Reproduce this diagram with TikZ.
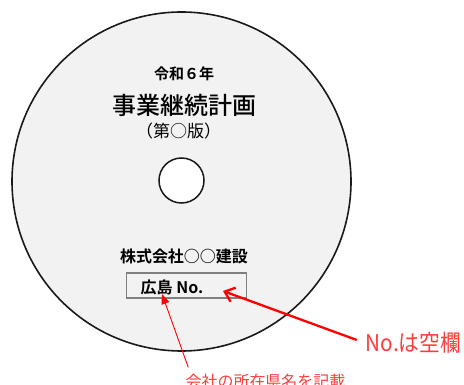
\documentclass[tikz,border=0pt]{standalone}
\usepackage{fontspec}
\usetikzlibrary{arrows.meta}
\newfontfamily\jp{Noto Sans CJK JP}[BoldFont={Noto Sans CJK JP Bold}]
\newfontfamily\jpmed{Noto Sans CJK JP Medium}
\definecolor{discfill}{HTML}{F2F2F2}
\definecolor{discline}{HTML}{1A1A1A}
\definecolor{boxline}{HTML}{808080}
\definecolor{notered}{HTML}{FF3B3B}
\tikzset{
  disc/.style={circle, draw=discline, line width=1.6pt, fill=discfill, inner sep=0pt},
  title/.style={inner sep=0pt, font=\jp\bfseries\fontsize{#1}{#1}\selectfont},
  medium/.style={inner sep=0pt, font=\jpmed\fontsize{#1}{#1}\selectfont},
  plain/.style={inner sep=0pt, font=\jp\fontsize{#1}{#1}\selectfont},
  labelbox/.style={draw=boxline, line width=1.3pt, fill=discfill, inner sep=0pt},
  note/.style={inner sep=0pt, text=notered, font=\jp\fontsize{#1}{#1}\selectfont},
  bigarrow/.style={draw=red, line width=2.3pt, -{Straight Barb[length=9pt,width=15pt,line width=2.3pt]}},
  smallarrow/.style={draw=red, line width=0.9pt, -{Triangle[length=10pt,width=8pt]}}
}
\begin{document}
\begin{tikzpicture}[x=1pt,y=-1pt]
\useasboundingbox (0,0) rectangle (464,385);
\clip (0,0) rectangle (464,385);
\node[disc, minimum size=339pt] (disc) at (181.5,181.5) {};
\node[circle, draw=discline, line width=1.5pt, fill=white, inner sep=0pt, minimum size=45pt] (hole) at (181.5,180.5) {};
\node[title=15] (year) at (184,74) {令和６年};
\node[medium=24] (plan) at (184.5,105) {事業継続計画};
\node[plain=17] (edition) at (178.5,131) {（第○版）};
\node[title=16] (company) at (184,256) {株式会社○○建設};
\node[labelbox, minimum width=120pt, minimum height=25pt] (box) at (186.5,285.5) {};
\node[title=16] (pref) at (172,287) {広島 No.};
\node[note=23] (lblno) at (413.5,343) {\scalebox{0.9}[1]{No.は空欄}};
\node[note=16] (lblken) at (265.5,381) {会社の所在県名を記載};
\coordinate (tipno) at (223,291);
\coordinate (tipken) at (162,294);
\draw[bigarrow] ([xshift=-9pt,yshift=3pt]lblno.west) -- (tipno);
\draw[smallarrow] ([xshift=3pt,yshift=6pt]lblken.north west) -- (tipken);
\end{tikzpicture}
\end{document}
